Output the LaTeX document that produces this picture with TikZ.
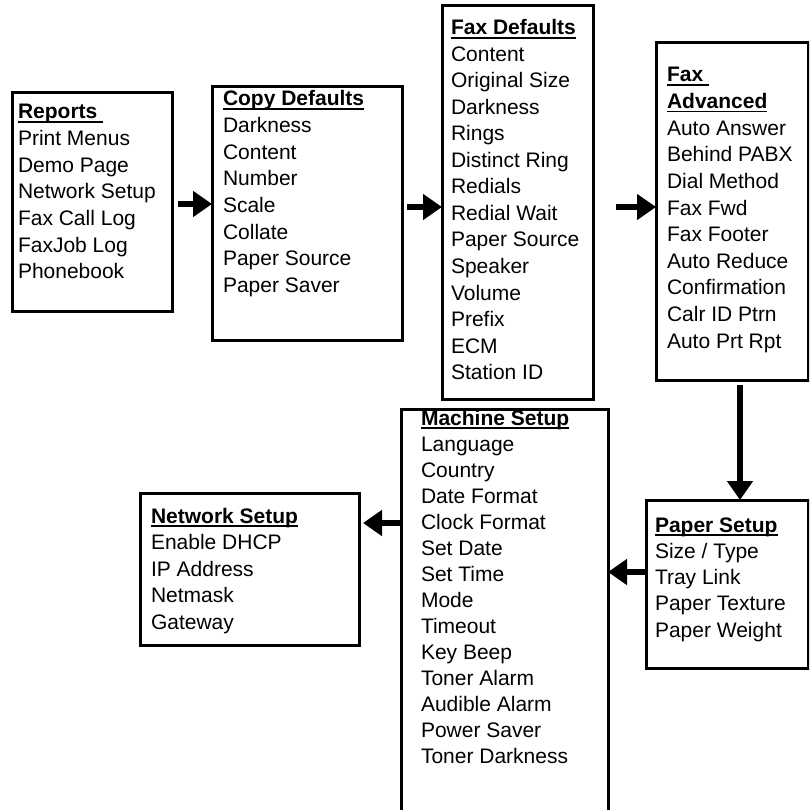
\documentclass[tikz,border=0pt]{standalone}
\usepackage{fontspec}
\setmainfont{Liberation Sans}
\usetikzlibrary{arrows.meta}

% Item lists: #1 name prefix, #2 x, #3 first baseline, #4 line pitch, #5 entries
\newcommand\menuitems[5]{%
  \foreach \t [count=\i] in {#5} {
    \node[item] (#1-\i) at ({#2}, {#3+(\i-1)*#4}) {\t};
  }}
% Underline under a header node
\newcommand\headline[1]{%
  \draw[uline] ([yshift=-3pt]#1.base west) -- ([yshift=-3pt]#1.base east);}

\begin{document}
\begin{tikzpicture}[x=1pt, y=-1pt,
  menubox/.style={draw=black, line width=3pt, fill=none, anchor=north west,
    inner sep=0pt, outer sep=0pt},
  item/.style={anchor=base west, inner sep=0pt, outer sep=0pt,
    font=\fontsize{21}{26}\selectfont},
  head/.style={item, font=\fontsize{21}{26}\selectfont\bfseries},
  uline/.style={line width=1.5pt},
  flow/.style={line width=5.5pt, -{Triangle[length=19pt, width=25pt]}}]

\useasboundingbox (0,0) rectangle (809,810);
\clip (0,0) rectangle (809,810);

% Boxes
\node[menubox, minimum width=160pt, minimum height=218pt] (reports) at (12,93) {};
\node[menubox, minimum width=190pt, minimum height=253pt] (copy) at (212,87) {};
\node[menubox, minimum width=151pt, minimum height=393pt] (faxdef) at (442,6) {};
\node[menubox, minimum width=152pt, minimum height=337pt] (faxadv) at (656,43) {};
\node[menubox, minimum width=162pt, minimum height=168pt] (paper) at (646,500) {};
\node[menubox, minimum width=207pt, minimum height=421pt] (machine) at (401,409) {};
\node[menubox, minimum width=219pt, minimum height=152pt] (network) at (140,493) {};

% Reports
\node[head] (reports-h) at (18,119) {Reports\hspace*{6pt}};
\headline{reports-h}
\menuitems{reports}{18}{145.6}{26.6}{Print Menus, Demo Page, Network Setup,
  Fax Call Log, FaxJob Log, Phonebook}

% Copy Defaults
\node[head] (copy-h) at (223,106) {Copy Defaults};
\headline{copy-h}
\menuitems{copy}{223}{132.6}{26.6}{Darkness, Content, Number, Scale, Collate,
  Paper Source, Paper Saver}

% Fax Defaults
\node[head] (faxdef-h) at (451,35) {Fax Defaults};
\headline{faxdef-h}
\menuitems{faxdef}{451}{61.5}{26.5}{Content, Original Size, Darkness, Rings,
  Distinct Ring, Redials, Redial Wait, Paper Source, Speaker, Volume, Prefix,
  ECM, Station ID}

% Fax Advanced
\node[head] (faxadv-h) at (667,82) {Fax\hspace*{6pt}};
\headline{faxadv-h}
\node[head] (faxadv-h2) at (667,108.6) {Advanced};
\headline{faxadv-h2}
\menuitems{faxadv}{667}{135.2}{26.6}{Auto Answer, Behind PABX, Dial Method,
  Fax Fwd, Fax Footer, Auto Reduce, Confirmation, Calr ID Ptrn, Auto Prt Rpt}

% Paper Setup
\node[head] (paper-h) at (655,532) {Paper Setup};
\headline{paper-h}
\menuitems{paper}{655}{558.3}{26.25}{Size / Type, Tray Link, Paper Texture,
  Paper Weight}

% Machine Setup
\node[head] (machine-h) at (421,425) {Machine Setup};
\headline{machine-h}
\menuitems{machine}{421}{451}{26}{Language, Country, Date Format, Clock Format,
  Set Date, Set Time, Mode, Timeout, Key Beep, Toner Alarm, Audible Alarm,
  Power Saver, Toner Darkness}

% Network Setup
\node[head] (network-h) at (151,523) {Network Setup};
\headline{network-h}
\menuitems{network}{151}{549.5}{26.5}{Enable DHCP, IP Address, Netmask, Gateway}

% Connectors
\draw[flow, shorten <=6pt]
  ([yshift=-2pt]reports.east) -- ([yshift=-2pt]reports.east -| copy.west);
\draw[flow, shorten <=5pt]
  ([yshift=6.5pt]copy.east) -- ([yshift=6.5pt]copy.east -| faxdef.west);
\draw[flow, shorten <=23pt]
  ([yshift=-4.5pt]faxdef.east) -- ([yshift=-4.5pt]faxdef.east -| faxadv.west);
\draw[flow, shorten <=5pt]
  ([xshift=8pt]faxadv.south) -- ([xshift=8pt]faxadv.south |- paper.north);
\draw[flow]
  ([yshift=12pt]paper.west) -- ([yshift=12pt]paper.west -| machine.east);
\draw[flow, shorten >=4pt]
  ([yshift=-114pt]machine.north west) -- ([yshift=-114pt]machine.north west -| network.east);
\end{tikzpicture}
\end{document}
